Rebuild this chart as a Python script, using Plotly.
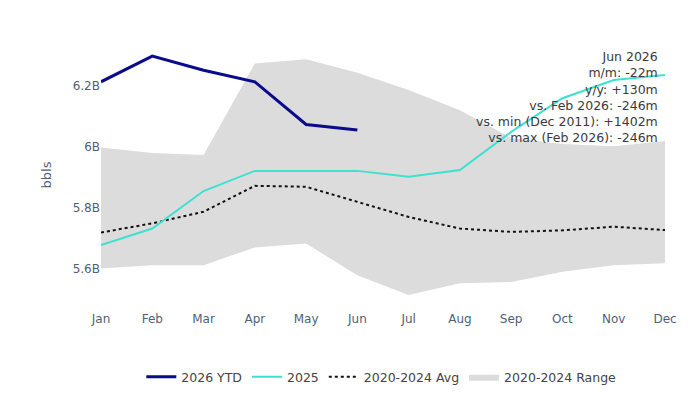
import plotly.graph_objects as go

months = ["Jan", "Feb", "Mar", "Apr", "May", "Jun", "Jul", "Aug", "Sep", "Oct", "Nov", "Dec"]

# values in billions of barrels
ytd_2026 = [6.214, 6.298, 6.252, 6.214, 6.074, 6.056]
y2025 = [5.679, 5.733, 5.856, 5.922, 5.922, 5.922, 5.903, 5.925, 6.050, 6.160, 6.220, 6.236]
avg_2020_2024 = [5.720, 5.750, 5.788, 5.873, 5.870, 5.821, 5.771, 5.733, 5.722, 5.727, 5.739, 5.728]
range_low = [5.602, 5.613, 5.613, 5.671, 5.684, 5.580, 5.515, 5.554, 5.558, 5.591, 5.613, 5.619]
range_high = [5.999, 5.981, 5.974, 6.274, 6.288, 6.244, 6.187, 6.121, 6.030, 6.010, 6.003, 6.020]

tick_vals = [5.6, 5.8, 6.0, 6.2]
tick_text = ["5.6B", "5.8B", "6B", "6.2B"]

note_lines = [
    "Jun 2026",
    "m/m: -22m",
    "y/y: +130m",
    "vs. Feb 2026: -246m",
    "vs. min (Dec 2011): +1402m",
    "vs. max (Feb 2026): -246m",
]

FONT = "DejaVu Sans, Verdana, sans-serif"
TICK_COLOR = "#4f5f78"

fig = go.Figure()
fig.add_trace(go.Scatter(x=months, y=range_low, mode="lines", line=dict(width=0),
                         showlegend=False, hoverinfo="skip"))
fig.add_trace(go.Scatter(x=months, y=range_high, mode="lines", line=dict(width=0),
                         fill="tonexty", fillcolor="#dcdcdc", name="2020-2024 Range",
                         legendrank=4))
fig.add_trace(go.Scatter(x=months, y=avg_2020_2024, mode="lines",
                         line=dict(color="#111111", width=2, dash="dot"),
                         name="2020-2024 Avg", legendrank=3))
fig.add_trace(go.Scatter(x=months, y=y2025, mode="lines",
                         line=dict(color="#40E0D0", width=2), name="2025", legendrank=2))
fig.add_trace(go.Scatter(x=months[:len(ytd_2026)], y=ytd_2026, mode="lines",
                         line=dict(color="#0a0a8c", width=3), name="2026 YTD", legendrank=1))

fig.add_annotation(text="<br>".join(note_lines), xref="paper", yref="paper",
                   x=0.992, y=0.974, xanchor="right", yanchor="top", align="right",
                   showarrow=False, font=dict(family=FONT, size=12.5, color="#3a3a3a"))

fig.update_layout(
    width=700, height=394,
    margin=dict(l=101, r=35, t=40, b=84, autoexpand=False),
    paper_bgcolor="white", plot_bgcolor="white",
    font=dict(family=FONT, size=12, color="#444"),
    showlegend=True,
    legend=dict(orientation="h", traceorder="normal", x=0.497, xanchor="center",
                yref="container", y=1 - 377 / 394, yanchor="middle",
                font=dict(family=FONT, size=12.5, color="#444")),
    xaxis=dict(range=[0, 11], showgrid=False, zeroline=False, showline=False,
               ticks="", tickfont=dict(family=FONT, size=12, color=TICK_COLOR)),
    yaxis=dict(range=[5.466, 6.351], showgrid=False, zeroline=False, showline=False,
               tickvals=tick_vals, ticktext=tick_text, ticks="",
               tickfont=dict(family=FONT, size=12, color=TICK_COLOR),
               title=dict(text="bbls", font=dict(family=FONT, size=13, color=TICK_COLOR),
                          standoff=18)),
)

fig.write_html("out.html")
